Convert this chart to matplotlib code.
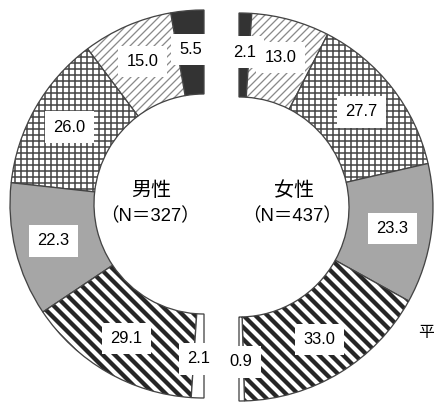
import matplotlib
matplotlib.use('Agg')
import numpy as np
import matplotlib.pyplot as plt
from matplotlib.patches import Wedge

plt.rcParams['font.family'] = ['Liberation Sans', 'Noto Sans CJK JP', 'DejaVu Sans']

# values, from top of each half going down the outer side
male_values = [5.5, 15.0, 26.0, 22.3, 29.1, 2.1]
female_values = [2.1, 13.0, 27.7, 23.3, 33.0, 0.9]
male_label = '男性'
female_label = '女性'
male_n = 327
female_n = 437

# segment styles (face, hatch, hatch colour, hatch width)
styles = [
    ('#333333', '', None, 0),
    ('white', '///', '#8a8a8a', 1.3),
    ('white', '++', '#4a4a4a', 1.6),
    ('#a6a6a6', '', None, 0),
    ('white', '\\\\', '#262626', 4.3),
    ('white', '', None, 0),
]

W, H = 434, 406
fig = plt.figure(figsize=(W / 72, H / 72), dpi=72)
ax = fig.add_axes([0, 0, 1, 1])
ax.set_xlim(0, W)
ax.set_ylim(0, H)
ax.axis('off')

R_OUT = 194
R_W = 84
R_LAB = 155
edge = '#444444'


def half_donut(cx, cy, values, side):
    total = sum(values)
    cum = np.concatenate([[0], np.cumsum(values)]) / total * 180
    for i, v in enumerate(values):
        if side == 'left':
            t1, t2 = 90 + cum[i], 90 + cum[i + 1]
        else:
            t1, t2 = 90 - cum[i + 1], 90 - cum[i]
        face, hatch, hcol, hlw = styles[i]
        w = Wedge((cx, cy), R_OUT, t1, t2, width=R_W, facecolor=face,
                  edgecolor=hcol if hcol else face, linewidth=0, hatch=hatch or None)
        if hatch and hasattr(w, 'set_hatch_linewidth'):
            w.set_hatch_linewidth(hlw)
        ax.add_patch(w)
        ax.add_patch(Wedge((cx, cy), R_OUT, t1, t2, width=R_W, facecolor='none',
                           edgecolor=edge, linewidth=1.3))
        mid = np.deg2rad((t1 + t2) / 2)
        ax.text(cx + R_LAB * np.cos(mid), cy + R_LAB * np.sin(mid), '%.1f' % v,
                ha='center', va='center', fontsize=16.5,
                bbox=dict(boxstyle='square,pad=0.5', facecolor='white', edgecolor='none'))


half_donut(204, H - 204, male_values, 'left')
half_donut(239, H - 207, female_values, 'right')

ax.text(151, H - 190, male_label, ha='center', va='center', fontsize=20)
ax.text(150, H - 216, '（N＝%d）' % male_n, ha='center', va='center', fontsize=18.5)
ax.text(294, H - 190, female_label, ha='center', va='center', fontsize=20)
ax.text(292, H - 216, '（N＝%d）' % female_n, ha='center', va='center', fontsize=18.5)
ax.text(418, H - 333, '平', ha='left', va='center', fontsize=16)

fig.savefig('out.png', dpi=72)
